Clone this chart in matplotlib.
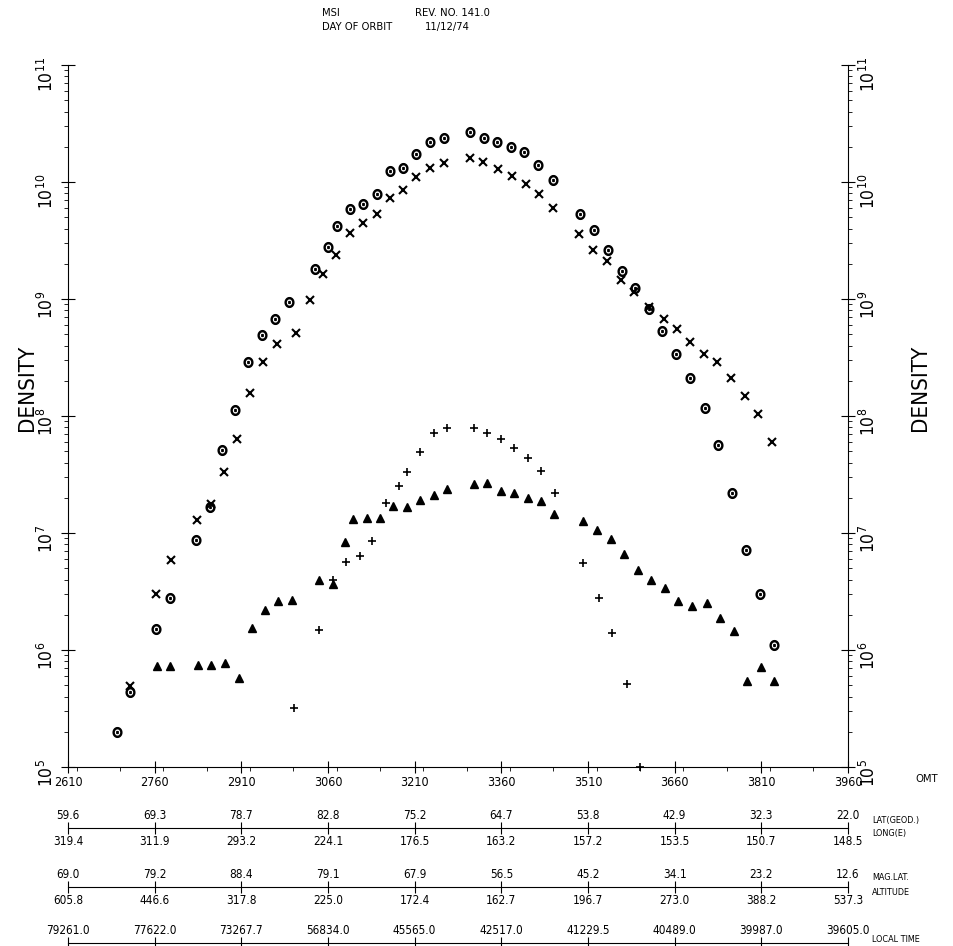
import numpy as np
import matplotlib
matplotlib.use('Agg')
import matplotlib.pyplot as plt
from matplotlib.ticker import LogLocator, MultipleLocator

plt.rcParams['font.family'] = ['DejaVu Sans']
plt.rcParams['font.stretch'] = 'condensed'

# --- data -------------------------------------------------------------------
omt_circ = [2695, 2718, 2763, 2787, 2831, 2855, 2877, 2899, 2922, 2945, 2968, 2992,
            3037, 3060, 3075, 3098, 3121, 3144, 3167, 3190, 3213, 3237, 3260, 3306,
            3330, 3353, 3376, 3400, 3423, 3450, 3496, 3520, 3544, 3568, 3591, 3615,
            3638, 3662, 3686, 3712, 3735, 3760, 3784, 3808, 3832]
dens_circ = [2.0e5, 4.4e5, 1.5e6, 2.8e6, 8.7e6, 1.66e7, 5.1e7, 1.13e8, 2.9e8, 4.9e8,
             6.7e8, 9.5e8, 1.82e9, 2.8e9, 4.2e9, 5.9e9, 6.5e9, 7.9e9, 1.23e10, 1.33e10,
             1.72e10, 2.2e10, 2.4e10, 2.65e10, 2.4e10, 2.2e10, 2.0e10, 1.79e10, 1.41e10,
             1.04e10, 5.3e9, 3.9e9, 2.6e9, 1.75e9, 1.25e9, 8.2e8, 5.3e8, 3.4e8, 2.1e8,
             1.17e8, 5.7e7, 2.2e7, 7.2e6, 3.0e6, 1.1e6]

omt_x = [2718, 2763, 2788, 2833, 2857, 2880, 2902, 2925, 2948, 2971, 3005, 3029, 3052,
         3074, 3098, 3121, 3144, 3167, 3190, 3213, 3236, 3260, 3306, 3329, 3355, 3378,
         3403, 3426, 3449, 3495, 3519, 3543, 3567, 3590, 3615, 3641, 3664, 3687, 3711,
         3734, 3757, 3781, 3804, 3828]
dens_x = [4.9e5, 3.0e6, 5.9e6, 1.29e7, 1.77e7, 3.3e7, 6.4e7, 1.57e8, 2.9e8, 4.1e8, 5.1e8,
          9.9e8, 1.62e9, 2.4e9, 3.7e9, 4.5e9, 5.3e9, 7.3e9, 8.5e9, 1.11e10, 1.31e10,
          1.44e10, 1.59e10, 1.48e10, 1.29e10, 1.13e10, 9.6e9, 7.9e9, 6.0e9, 3.6e9, 2.6e9,
          2.1e9, 1.46e9, 1.15e9, 8.5e8, 6.7e8, 5.5e8, 4.3e8, 3.4e8, 2.9e8, 2.1e8, 1.49e8,
          1.04e8, 6.0e7]

omt_tri = [2764, 2787, 2835, 2858, 2881, 2906, 2928, 2951, 2974, 2998, 3044, 3068, 3090,
           3104, 3127, 3150, 3173, 3197, 3220, 3243, 3266, 3312, 3335, 3359, 3382, 3406,
           3429, 3452, 3502, 3526, 3549, 3573, 3596, 3619, 3643, 3666, 3690, 3716, 3739,
           3763, 3786, 3809, 3832]
dens_tri = [7.3e5, 7.3e5, 7.5e5, 7.5e5, 7.7e5, 5.8e5, 1.54e6, 2.2e6, 2.6e6, 2.7e6, 4.0e6,
            3.7e6, 8.4e6, 1.31e7, 1.34e7, 1.34e7, 1.70e7, 1.66e7, 1.90e7, 2.1e7, 2.4e7,
            2.6e7, 2.65e7, 2.3e7, 2.2e7, 2.0e7, 1.89e7, 1.45e7, 1.27e7, 1.06e7, 8.9e6,
            6.6e6, 4.8e6, 4.0e6, 3.4e6, 2.6e6, 2.4e6, 2.5e6, 1.89e6, 1.45e6, 5.4e5, 7.1e5,
            5.4e5]

omt_plus = [3001, 3045, 3068, 3091, 3115, 3137, 3160, 3183, 3196, 3220, 3243, 3266, 3312,
            3335, 3359, 3382, 3406, 3429, 3453, 3501, 3529, 3552, 3577, 3600]
dens_plus = [3.2e5, 1.48e6, 4.0e6, 5.7e6, 6.4e6, 8.5e6, 1.82e7, 2.5e7, 3.3e7, 4.9e7, 7.1e7,
             7.9e7, 7.9e7, 7.2e7, 6.3e7, 5.3e7, 4.4e7, 3.4e7, 2.2e7, 5.5e6, 2.8e6, 1.41e6,
             5.1e5, 1.0e5]

omt_ticks = [2610, 2760, 2910, 3060, 3210, 3360, 3510, 3660, 3810, 3960]
lat_geod = ['59.6', '69.3', '78.7', '82.8', '75.2', '64.7', '53.8', '42.9', '32.3', '22.0']
long_e = ['319.4', '311.9', '293.2', '224.1', '176.5', '163.2', '157.2', '153.5', '150.7', '148.5']
mag_lat = ['69.0', '79.2', '88.4', '79.1', '67.9', '56.5', '45.2', '34.1', '23.2', '12.6']
altitude = ['605.8', '446.6', '317.8', '225.0', '172.4', '162.7', '196.7', '273.0', '388.2', '537.3']
local_time = ['79261.0', '77622.0', '73267.7', '56834.0', '45565.0', '42517.0',
              '41229.5', '40489.0', '39987.0', '39605.0']

W, H = 954, 946
fig = plt.figure(figsize=(W / 100, H / 100), dpi=100)
left, width = 68 / W, 780 / W
ax = fig.add_axes([left, 1 - 767 / H, width, 702 / H])

ax.plot(omt_circ, dens_circ, ls='none', marker=r'$\odot$', ms=7, color='black', clip_on=False)
ax.plot(omt_x, dens_x, ls='none', marker='x', ms=5.5, mew=1.5, color='black', clip_on=False)
ax.plot(omt_tri, dens_tri, ls='none', marker='^', ms=5.5, color='black', clip_on=False)
ax.plot(omt_plus, dens_plus, ls='none', marker='+', ms=5.5, mew=1.2, color='black', clip_on=False)

ax.set_xlim(2610, 3960)
ax.set_yscale('log')
ax.set_ylim(1e5, 1e11)
ax.spines['top'].set_visible(False)

ax.set_xticks(omt_ticks)
ax.xaxis.set_minor_locator(MultipleLocator(75))
ax.tick_params(axis='x', which='major', direction='inout', length=9, labelsize=9, pad=2)
ax.tick_params(axis='x', which='minor', direction='out', length=3)
ax.yaxis.set_major_locator(LogLocator(10, numticks=10))
ax.yaxis.set_minor_locator(LogLocator(10, subs=np.arange(2, 10), numticks=10))
ax.tick_params(axis='y', which='major', direction='inout', length=10, labelsize=12.5,
               right=True, labelright=True, labelrotation=90, pad=3)
ax.tick_params(axis='y', which='minor', direction='out', length=3, right=True)

fig.text(27 / W, 1 - 388 / H, 'DENSITY', rotation=90, fontsize=16, ha='center', va='center')
fig.text(920 / W, 1 - 388 / H, 'DENSITY', rotation=90, fontsize=16, ha='center', va='center')

fig.text(322 / W, 1 - 13 / H, 'MSI', fontsize=8, va='center')
fig.text(415 / W, 1 - 13 / H, 'REV. NO. 141.0', fontsize=8, va='center')
fig.text(322 / W, 1 - 27 / H, 'DAY OF ORBIT', fontsize=8, va='center')
fig.text(425 / W, 1 - 27 / H, '11/12/74', fontsize=8, va='center')
fig.text(915 / W, 1 - 779 / H, 'OMT', fontsize=8, va='center')


def aux_row(y_px, upper, lower):
    rax = fig.add_axes([left, 1 - y_px / H, width, 0.0001])
    rax.set_xlim(2610, 3960)
    rax.patch.set_visible(False)
    for s in ['top', 'left', 'right']:
        rax.spines[s].set_visible(False)
    rax.set_yticks([])
    rax.set_xticks(omt_ticks)
    if lower is None:
        rax.tick_params(axis='x', labelbottom=False)
    else:
        rax.set_xticklabels(lower)
    rax.tick_params(axis='x', direction='inout', length=8, labelsize=8.5, pad=1)
    top = rax.secondary_xaxis('top')
    top.set_xticks(omt_ticks, labels=upper)
    top.tick_params(length=0, labelsize=8.5, pad=4)
    top.spines['top'].set_visible(False)


aux_row(828, lat_geod, long_e)
aux_row(887, mag_lat, altitude)
aux_row(943, local_time, None)

fig.text(872 / W, 1 - 820 / H, 'LAT(GEOD.)', fontsize=6.5, va='center')
fig.text(872 / W, 1 - 833 / H, 'LONG(E)', fontsize=6.5, va='center')
fig.text(872 / W, 1 - 877 / H, 'MAG.LAT.', fontsize=6.5, va='center')
fig.text(872 / W, 1 - 892 / H, 'ALTITUDE', fontsize=6.5, va='center')
fig.text(872 / W, 1 - 939 / H, 'LOCAL TIME', fontsize=6.5, va='center')

fig.savefig('out.png', dpi=100)
